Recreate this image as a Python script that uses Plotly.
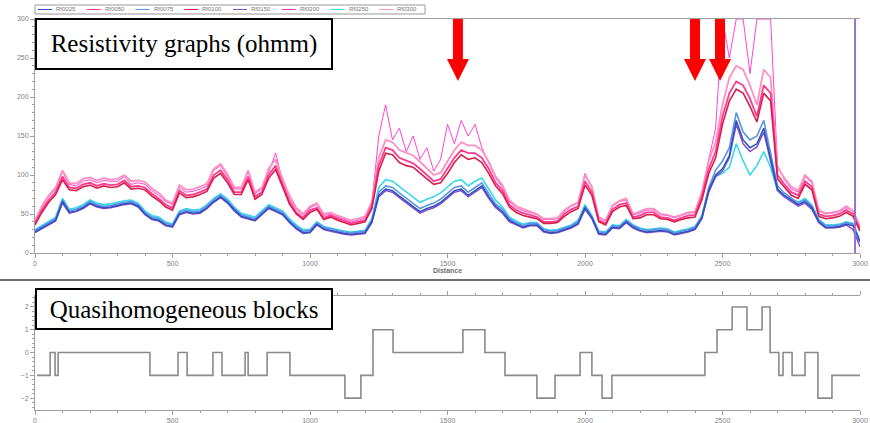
import plotly.graph_objects as go

# ---------------- data ----------------
DIST = list(range(0, 3001, 25))

SERIES_NAMES = ["Rf0025", "Rf0050", "Rf0075", "Rf0100", "Rf0150", "Rf0200", "Rf0250", "Rf0300"]

B = [27,32,36,42,66,52,54,58,64,60,
     58,59,61,63,64,60,50,44,42,36,
     34,50,53,51,52,58,66,72,65,55,
     47,44,42,50,58,54,50,40,32,26,
     27,37,31,29,27,25,24,25,26,40,
     74,82,80,73,66,60,53,57,60,65,
     72,80,82,74,80,86,72,60,53,42,
     37,33,36,36,28,26,27,30,33,38,
     58,45,25,24,33,32,40,33,29,27,
     28,29,28,24,26,28,31,45,80,100,
     108,125,170,145,135,140,160,120,82,74,
     68,62,66,58,40,33,33,34,37,35,
     14]

P = [38,55,68,78,98,84,83,88,90,86,
     89,87,88,93,85,86,84,76,70,62,
     58,80,74,75,78,82,100,106,94,78,
     78,98,72,78,100,112,88,66,52,45,
     55,58,45,48,44,41,38,40,42,60,
     112,135,132,122,118,115,108,100,92,95,
     108,122,132,128,128,122,108,90,80,62,
     55,51,49,46,40,40,41,50,56,60,
     92,78,42,38,56,62,64,46,48,52,
     52,46,45,42,45,48,49,72,108,130,
     175,205,220,215,198,175,215,205,100,88,
     78,74,92,85,50,47,48,50,55,50,
     30]

M = [40,58,72,82,104,88,86,92,94,90,
     93,92,92,98,88,90,88,80,74,66,
     62,84,78,79,82,86,106,112,98,82,
     82,104,76,82,104,128,92,70,56,48,
     58,62,48,50,46,43,40,42,45,64,
     150,190,145,160,130,150,120,135,105,120,
     165,140,170,150,165,135,115,96,84,66,
     58,54,52,49,43,43,44,53,60,64,
     102,84,45,41,60,66,68,49,51,55,
     55,49,48,45,48,51,52,78,120,160,
     300,250,300,300,230,300,300,300,112,94,
     82,78,98,90,54,50,51,53,58,54,
     35]

R = [36,52,65,75,94,81,80,85,87,83,
     86,84,85,90,82,83,81,73,67,59,
     55,77,71,72,75,79,96,102,90,75,
     75,94,69,75,96,107,85,63,50,43,
     52,56,43,46,42,39,36,38,40,57,
     105,128,126,116,112,110,102,95,88,90,
     102,116,126,120,122,116,102,86,76,59,
     52,48,46,44,38,38,39,47,53,57,
     87,74,40,36,53,59,61,44,45,49,
     49,44,43,40,43,45,46,68,102,122,
     165,195,210,205,188,168,205,195,95,84,
     74,70,88,81,47,44,45,47,52,47,
     28]

LP = [42,60,74,84,106,90,89,95,97,93,
      96,94,95,100,92,93,91,83,77,68,
      64,87,81,82,85,89,108,114,101,84,
      84,106,78,84,108,120,95,74,58,50,
      60,64,50,52,48,45,42,44,47,66,
      122,145,142,132,128,125,117,108,100,103,
      117,132,142,138,138,132,117,98,87,68,
      60,56,53,50,44,44,45,55,61,65,
      100,85,46,42,61,67,70,50,53,57,
      57,50,49,46,49,52,53,78,118,142,
      190,225,240,235,215,190,235,225,110,96,
      85,80,100,92,55,51,52,54,60,54,
      33]

C = [30,35,40,46,70,56,58,62,68,64,
     62,63,65,67,68,64,54,48,46,40,
     37,54,57,55,56,62,70,76,69,59,
     51,48,46,54,62,58,54,44,36,30,
     30,40,34,32,30,28,27,28,29,44,
     84,94,92,85,78,72,65,69,72,77,
     84,92,94,86,92,96,82,68,59,46,
     41,37,39,39,31,29,30,33,36,42,
     62,48,28,27,36,35,43,36,32,30,
     31,32,31,27,29,31,34,48,82,98,
     102,110,140,118,100,112,130,110,80,72,
     70,65,70,62,43,36,36,37,40,38,
     16]

L = [29,34,38,44,68,54,56,60,66,62,
     60,61,63,65,66,62,52,46,44,38,
     36,52,55,53,54,60,68,74,67,57,
     49,46,44,52,60,56,52,42,34,28,
     29,39,33,31,29,27,26,27,28,42,
     78,86,84,77,70,64,57,61,64,69,
     76,84,86,78,84,90,76,63,56,44,
     39,35,38,38,30,28,29,32,35,40,
     60,47,27,26,35,34,42,35,31,29,
     30,31,30,26,28,30,33,47,84,106,
     118,135,180,155,145,150,170,128,86,77,
     71,64,68,60,42,35,35,36,39,37,
     15]

V = [26,31,35,41,64,51,53,57,63,59,
     57,58,60,62,63,59,49,43,41,35,
     33,49,52,50,51,57,65,71,64,54,
     46,43,41,49,57,53,49,39,31,25,
     26,36,30,28,26,24,23,24,25,39,
     72,80,78,71,64,58,51,55,58,63,
     70,78,80,72,78,84,70,58,51,40,
     36,32,35,35,27,25,26,29,32,37,
     56,44,24,23,32,31,39,32,28,26,
     27,28,27,23,25,27,30,44,78,98,
     105,122,165,140,130,136,155,116,80,72,
     66,60,64,56,39,32,32,33,36,30,
     8]

# quasihomogeneous blocks: block start distances and levels
BLOCK_X = [7, 55, 73, 84, 418, 520, 553, 647, 680, 764, 775, 844, 927, 1127, 1185,
           1229, 1302, 1556, 1636, 1709, 1825, 1891, 1982, 2025, 2062, 2098, 2436,
           2480, 2535, 2589, 2644, 2673, 2705, 2720, 2753, 2800, 2847, 2898, 3000]
BLOCK_LEVEL = [-1, 0, -1, 0, -1, 0, -1, 0, -1, 0, -1, 0, -1, -2, -1,
               1, 0, 1, 0, -1, -2, -1, 0, -1, -2, -1, 0,
               1, 2, 1, 2, 0, -1, 0, -1, 0, -2, -1, -1]

ARROW_X = [1538, 2400, 2491]
MARKER_X = 2982

# legend order colours (entry 1..8)
LEGEND_COLORS = ["#2f4fc0", "#ff3a8c", "#5a96e6", "#d8204e", "#8650c8", "#ff2fd0", "#38d8f0", "#ff8fc0"]

# -------------- figure --------------
fig = go.Figure()

# draw order (back to front): (values, legend index, width)
traces = [
    (M, 5, 0.9),
    (LP, 7, 1.8),
    (P, 1, 1.8),
    (R, 3, 1.6),
    (C, 6, 1.6),
    (L, 2, 1.6),
    (V, 4, 1.5),
    (B, 0, 1.5),
]
for vals, idx, w in traces:
    fig.add_trace(go.Scatter(x=DIST, y=vals, mode="lines", name=SERIES_NAMES[idx],
                             line=dict(color=LEGEND_COLORS[idx], width=w),
                             showlegend=False, xaxis="x", yaxis="y"))

fig.add_trace(go.Scatter(x=BLOCK_X, y=BLOCK_LEVEL, mode="lines", line_shape="hv",
                         line=dict(color="#8a8a8a", width=1.6), showlegend=False,
                         xaxis="x2", yaxis="y2"))

tickfont = dict(family="Liberation Sans", size=7, color="#808080")
axcommon = dict(showline=True, linecolor="#a0a0a0", linewidth=1, ticks="outside",
                ticklen=4, tickcolor="#a0a0a0", tickfont=tickfont, showgrid=False,
                zeroline=False, automargin=False)

W = 870 - 35 - 10
H = 423 - 19 - 13
def py(p):
    return 1 - (p - 19) / H
def px(p):
    return (p - 35) / W

fig.update_layout(
    width=870, height=423,
    margin=dict(l=35, r=10, t=19, b=13, autoexpand=False),
    paper_bgcolor="white", plot_bgcolor="white",
    font=dict(family="Liberation Sans"),
    showlegend=False,
    xaxis=dict(domain=[0, 1], anchor="y", range=[0, 3000], tickvals=[0, 500, 1000, 1500, 2000, 2500, 3000],
               minor=dict(dtick=100, ticks="outside", ticklen=2, tickcolor="#a0a0a0"),
               mirror=True,
               title=dict(text="<b>Distance</b>", font=dict(size=7, color="#707070"), standoff=1),
               **axcommon),
    yaxis=dict(domain=[py(253), 1], anchor="x", range=[0, 300], dtick=50,
               minor=dict(dtick=10, ticks="outside", ticklen=2, tickcolor="#a0a0a0"),
               **axcommon),
    xaxis2=dict(domain=[0, 1], anchor="y2", range=[0, 3000], tickvals=[0, 500, 1000, 1500, 2000, 2500, 3000],
                minor=dict(dtick=100, ticks="outside", ticklen=2, tickcolor="#a0a0a0"),
                mirror="ticks", **axcommon),
    yaxis2=dict(domain=[0, py(296)], anchor="x2", range=[-2.52, 2.48], dtick=1,
                minor=dict(dtick=0.2, ticks="outside", ticklen=2, tickcolor="#a0a0a0"),
                **axcommon),
)

shapes = []
# purple marker line
shapes.append(dict(type="line", xref="x", yref="y", x0=MARKER_X, x1=MARKER_X, y0=0, y1=300,
                   line=dict(color="#9a72cc", width=2)))
# separator line
shapes.append(dict(type="line", xref="paper", yref="paper", x0=-0.05, x1=1.02, y0=py(280), y1=py(280),
                   line=dict(color="#707070", width=2)))
# red arrows
for ax in ARROW_X:
    shapes.append(dict(type="path", xref="x", yref="y", xsizemode="pixel", ysizemode="pixel",
                       xanchor=ax, yanchor=300,
                       path="M -5 1 L 5 1 L 5 -40 L 11 -40 L 0 -62 L -11 -40 L -5 -40 Z",
                       fillcolor="#ff0000", line=dict(color="#ff0000", width=0), layer="above"))

# custom compact legend (box + samples + labels)
LEG_X0, LEG_X1, LEG_Y0, LEG_Y1 = 35, 425, 5, 14
shapes.append(dict(type="rect", xref="paper", yref="paper", x0=px(LEG_X0), x1=px(LEG_X1),
                   y0=py(LEG_Y1), y1=py(LEG_Y0), line=dict(color="#999999", width=1),
                   fillcolor="white"))
step = (LEG_X1 - LEG_X0) / len(SERIES_NAMES)
for i, name in enumerate(SERIES_NAMES):
    ex = LEG_X0 + i * step
    shapes.append(dict(type="line", xref="paper", yref="paper", x0=px(ex + 3), x1=px(ex + 17),
                       y0=py(9.5), y1=py(9.5), line=dict(color=LEGEND_COLORS[i], width=1)))
    fig.add_annotation(xref="paper", yref="paper", x=px(ex + 19), y=py(9.5), xanchor="left",
                       yanchor="middle", text=name, showarrow=False,
                       font=dict(family="Liberation Sans", size=6, color="#777777"))
fig.update_layout(shapes=shapes)

boxfont = dict(family="Liberation Serif", size=25, color="black")
fig.add_annotation(xref="paper", yref="paper", x=0, y=py(18), xanchor="left", yanchor="top",
                   text="Resistivity graphs (ohmm)", showarrow=False, font=boxfont,
                   bgcolor="white", bordercolor="black", borderwidth=2, borderpad=4,
                   width=286, height=40, align="center")
fig.add_annotation(xref="paper", yref="paper", x=0, y=py(288), xanchor="left", yanchor="top",
                   text="Quasihomogeneous blocks", showarrow=False, font=boxfont,
                   bgcolor="white", bordercolor="black", borderwidth=2, borderpad=4,
                   width=286, height=30, align="center")

fig.write_html("out.html", config={"displayModeBar": False},
               post_script="document.body.style.margin='0';document.body.style.overflow='hidden';")
